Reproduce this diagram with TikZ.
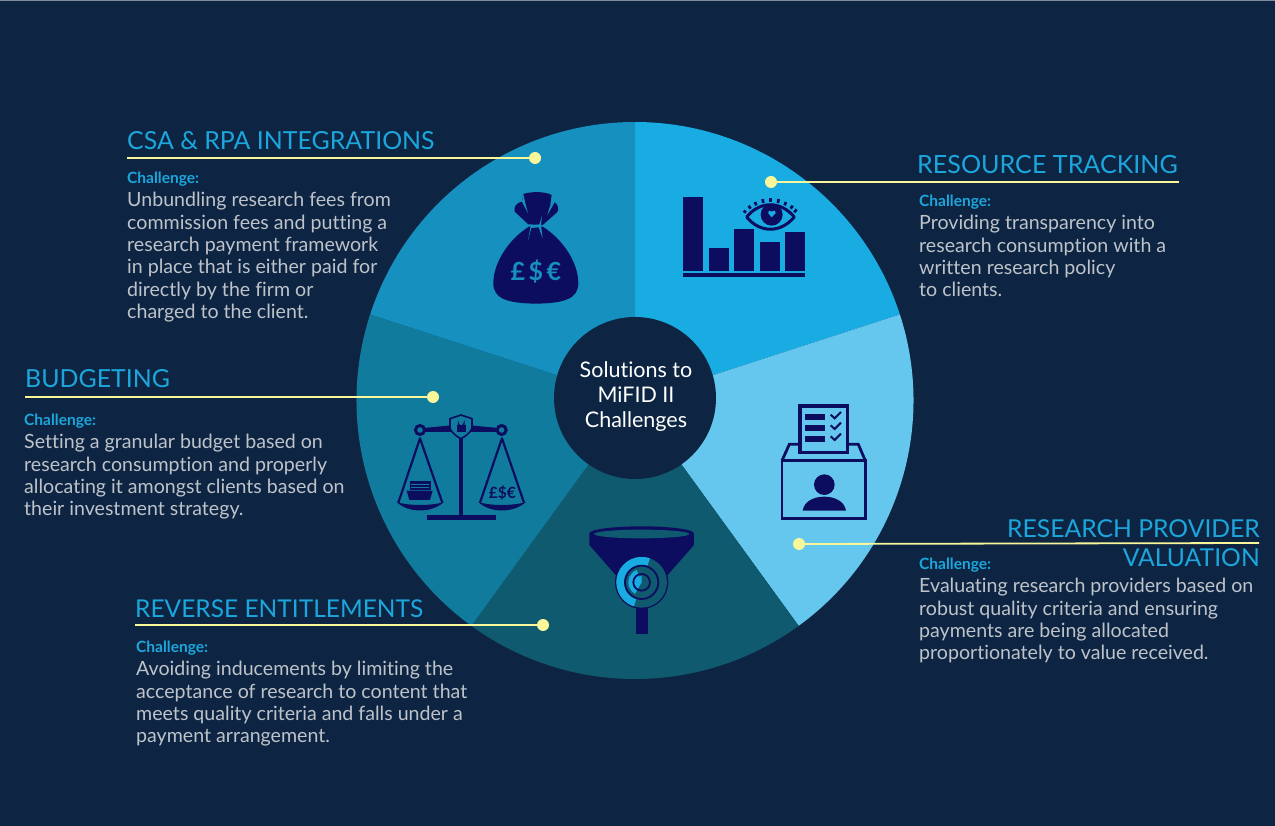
\documentclass[tikz,border=0pt]{standalone}
\usepackage{fontspec}
\setmainfont{Lato}[Ligatures=NoCommon]
\definecolor{bgc}{HTML}{0D2543}
\definecolor{segA}{HTML}{19ACE3}
\definecolor{segB}{HTML}{66C7EE}
\definecolor{segC}{HTML}{0F5A6E}
\definecolor{segD}{HTML}{117B9D}
\definecolor{segE}{HTML}{1590BF}
\definecolor{ico}{HTML}{0D0D5F}
\definecolor{lead}{HTML}{FAF69A}
\definecolor{titlec}{HTML}{1CA6DC}
\definecolor{bodyc}{HTML}{BEC3CA}
\definecolor{edgec}{HTML}{7F8C9B}
\tikzset{
  head/.style={text=titlec,font=\fontsize{24.9}{29}\selectfont,inner sep=0pt},
  chal/.style={text=titlec,font=\fontsize{15.5}{16}\selectfont\bfseries,inner sep=0pt,anchor=west},
  bodytxt/.style={text=bodyc,font=\fontsize{19.6}{22.4}\selectfont,inner sep=0pt,anchor=north west,align=left},
  leader/.style={draw=lead,line width=1.8pt},
  dot/.style={circle,fill=lead,minimum size=12pt,inner sep=0pt},
}
\def\Cx{635}\def\Cy{400.5}\def\Rr{278.5}
\newcommand{\sect}[3]{\fill[#1] (\Cx,\Cy) -- ++(#2:\Rr) arc[start angle=#2,end angle=#3,radius=\Rr] -- cycle;}
\begin{document}
\begin{tikzpicture}[x=1pt,y=-1pt]
\useasboundingbox (0,0) rectangle (1275,826);
\fill[bgc] (0,0) rectangle (1275,826);
\fill[edgec] (0,0) rectangle (1275,1);
\sect{segA}{-90}{-18}
\sect{segB}{-18}{54}
\sect{segC}{54}{126}
\sect{segD}{126}{198}
\sect{segE}{198}{270}
% money bag
\begin{scope}[shift={(460,170)},x=0.3333pt,y=-0.3333pt]
\fill[ico] (207,170) .. controls (150,205) and (100,275) .. (100,340)
  .. controls (100,385) and (140,400) .. (228,401)
  .. controls (315,400) and (355,385) .. (355,340)
  .. controls (355,275) and (305,205) .. (248,170) -- cycle;
\fill[ico] (205,163) -- (164,125) .. controls (160,110) and (170,98) .. (186,95)
  -- (190,72) .. controls (215,64) and (255,64) .. (275,75) -- (270,108)
  -- (284,97) .. controls (296,105) and (298,120) .. (290,128) -- (248,165) -- cycle;
\fill[segE] (204,212) -- (212,168) -- (238,163) -- (246,138) -- (243,165) -- (248,205) -- (236,172) -- (214,174) -- cycle;
\fill[segE] (190,72) -- (196,100) -- (204,130) -- (186,95) -- cycle;
\fill[segE] (270,108) -- (262,135) -- (284,97) -- cycle;
\node[text=segE,font=\fontsize{25}{25}\selectfont\bfseries,inner sep=0pt] (money) at (228,305) {£\hspace{3.5pt}\$\hspace{3.5pt}€};
\end{scope}
% bar chart and eye
\begin{scope}[shift={(460,170)},x=0.3333pt,y=-0.3333pt]
\fill[ico] (670,80) rectangle (730,302);
\fill[ico] (747,234) rectangle (806,302);
\fill[ico] (823,176) rectangle (882,302);
\fill[ico] (900,216) rectangle (960,302);
\fill[ico] (975,185) rectangle (1035,302);
\fill[ico] (670,308) rectangle (1035,322);
\draw[ico,line width=3pt,line join=round] (860,141) .. controls (900,92) and (962,92) .. (1003,141) .. controls (962,190) and (900,190) .. (860,141) -- cycle;
\fill[ico] (935,134) circle[radius=33];
\fill[segA] (935,142) -- (925,130) .. controls (925,120) and (933,120) .. (935,125) .. controls (937,120) and (948,120) .. (947,130) -- cycle;
\foreach \a/\b/\c/\d in {851/122/858/128, 866/107/872/116, 885/96/889/106, 908/87/910/99, 932/84/932/96, 956/87/954/99, 978/96/974/106, 998/107/992/116, 1010/118/1003/127}
  \draw[ico,line width=2.7pt] (\a,\b) -- (\c,\d);
\end{scope}
% ballot box
\begin{scope}[shift={(760,390)},x=0.3333pt,y=-0.3333pt]
\draw[ico,line width=2.8pt] (66,212) rectangle (316,385);
\draw[ico,line width=2.8pt,line join=miter] (120,163) -- (88,163) -- (66,212);
\draw[ico,line width=2.8pt,line join=miter] (265,163) -- (295,163) -- (316,212);
\draw[ico,fill=segB,line width=3.8pt] (120.5,47.5) rectangle (262.5,187.5);
\fill[ico] (134,71) rectangle (196,89);
\fill[ico] (134,104) rectangle (196,122);
\fill[ico] (134,137) rectangle (196,155);
\foreach \y in {0,32,65}
  \draw[ico,line width=2pt] (212,74+\y) -- (224,85+\y) -- (243,66+\y);
\fill[ico] (193,284) circle[radius=31];
\fill[ico] (128,362) .. controls (132,335) and (160,320) .. (193,320) .. controls (226,320) and (254,335) .. (258,362) -- cycle;
\end{scope}
% scales
\begin{scope}[shift={(380,400)},x=0.3333pt,y=-0.3333pt]
\fill[ico] (236,100) rectangle (250,350);
\fill[ico] (140,346) rectangle (347,361);
\fill[ico] (130,84) -- (215,76) -- (270,76) -- (355,84) -- (355,96) -- (270,96) -- (215,96) -- (130,96) -- cycle;
\draw[ico,fill=segD,line width=3pt] (120,90) circle[radius=13.5];
\draw[ico,fill=segD,line width=3pt] (365,90) circle[radius=13.5];
\draw[ico,fill=segD,line width=1.6pt,line join=round] (243,45) -- (276,56) -- (276,85) .. controls (270,100) and (255,110) .. (243,116) .. controls (231,110) and (216,100) .. (210,85) -- (210,56) -- cycle;
\fill[ico] (230,75) rectangle (257,95);
\draw[ico,line width=1.1pt] (235,75) -- (235,69) arc[start angle=180,end angle=0,radius=8.5] -- (252,75);
\draw[ico,line width=2.2pt,line join=round] (55,308) -- (120,115) -- (187,308);
\draw[ico,line width=2.2pt,line join=round] (300,308) -- (366,115) -- (432,308);
\fill[ico] (50,306) .. controls (85,340) and (155,340) .. (192,306) .. controls (155,318) and (85,318) .. (50,306) -- cycle;
\fill[ico] (295,306) .. controls (330,340) and (400,340) .. (438,306) .. controls (400,318) and (330,318) .. (295,306) -- cycle;
\fill[ico] (90,243) rectangle (152,270);
\fill[segD] (94,252) rectangle (148,256);
\fill[segD] (94,260) rectangle (148,263);
\fill[ico] (80,272) -- (158,272) -- (150,300) -- (88,300) -- cycle;
\node[text=ico,font=\fontsize{15.5}{16}\selectfont\bfseries,inner sep=0pt] (pounds) at (367,278) {£\$€};
\end{scope}
% funnel
\begin{scope}[shift={(380,400)},x=0.3333pt,y=-0.3333pt]
\fill[ico] (628,400) -- (628,435) -- (720,540) -- (850,540) -- (942,435) -- (942,400) -- cycle;
\fill[ico] (785,400) ellipse[x radius=157,y radius=21];
\fill[segC] (785,402) ellipse[x radius=143,y radius=13];
\fill[ico] (767,620) rectangle (803,701);
\fill[ico] (785,547) circle[radius=80];
\fill[segC] (785,547) circle[radius=76];
\fill[segA] (785,547) -- (810,475) arc[start angle=-71,end angle=-252,radius=76] -- cycle;
\fill[segC] (785,547) circle[radius=52];
\fill[segA] (785,547) -- (770,510) arc[start angle=-112,end angle=-240,radius=40] -- cycle;
\draw[ico,line width=1.8pt] (785,547) circle[radius=50];
\draw[ico,line width=1.8pt] (785,547) circle[radius=25];
\fill[segA] (785,547) -- (785,528) arc[start angle=-90,end angle=-190,radius=19] -- cycle;
\end{scope}
% centre
\node[circle,fill=bgc,minimum size=162pt,inner sep=0pt] (centre) at (635,398) {};
\node[text=white,align=center,inner sep=0pt,font=\fontsize{21.5}{25}\selectfont] (centretxt) at (636,397) {Solutions to\\MiFID II\\Challenges};
% CSA
\node[head,anchor=base west] (t1) at (127,149.5) {CSA \& RPA INTEGRATIONS};
\coordinate (s1) at (127,158);
\node[dot] (d1) at (535,158) {};
\draw[leader] (s1) -- (d1);
\node[chal] (c1) at (127,179) {Challenge:};
\node[bodytxt] (b1) at (127,192) {Unbundling research fees from\\commission fees and putting a\\research payment framework\\in place that is either paid for\\directly by the firm or\\charged to the client.};
% Resource
\node[head,anchor=base west,font=\fontsize{25.1}{29}\selectfont] (t2) at (917,173.5) {RESOURCE TRACKING};
\coordinate (s2) at (1179,182);
\node[dot] (d2) at (771,182) {};
\draw[leader] (s2) -- (d2);
\node[chal] (c2) at (919,202) {Challenge:};
\node[bodytxt] (b2) at (919,215) {Providing transparency into\\research consumption with a\\written research policy\\to clients.};
% Budgeting
\node[head,anchor=base west] (t3) at (25,387.5) {BUDGETING};
\coordinate (s3) at (25,397);
\node[dot] (d3) at (433,397) {};
\draw[leader] (s3) -- (d3);
\node[chal] (c3) at (24,421) {Challenge:};
\node[bodytxt] (b3) at (24,434) {Setting a granular budget based on\\research consumption and properly\\allocating it amongst clients based on\\their investment strategy.};
% Reverse
\node[head,anchor=base west,font=\fontsize{24.5}{29}\selectfont] (t4) at (135,617) {REVERSE ENTITLEMENTS};
\coordinate (s4) at (135,625);
\node[dot] (d4) at (543,625) {};
\draw[leader] (s4) -- (d4);
\node[chal] (c4) at (136,648) {Challenge:};
\node[bodytxt] (b4) at (136,661) {Avoiding inducements by limiting the\\acceptance of research to content that\\meets quality criteria and falls under a\\payment arrangement.};
% Research provider
\node[head,anchor=base east,font=\fontsize{24.7}{29}\selectfont] (t5a) at (1260,537) {RESEARCH PROVIDER};
\node[head,anchor=base east,font=\fontsize{24.7}{29}\selectfont] (t5b) at (1260,566.5) {VALUATION};
\coordinate (s5) at (1259,543);
\node[dot] (d5) at (799,544) {};
\draw[leader] (s5) -- (d5);
\node[chal] (c5) at (919,565) {Challenge:};
\node[bodytxt] (b5) at (919,578) {Evaluating research providers based on\\robust quality criteria and ensuring\\payments are being allocated\\proportionately to value received.};
\end{tikzpicture}
\end{document}
